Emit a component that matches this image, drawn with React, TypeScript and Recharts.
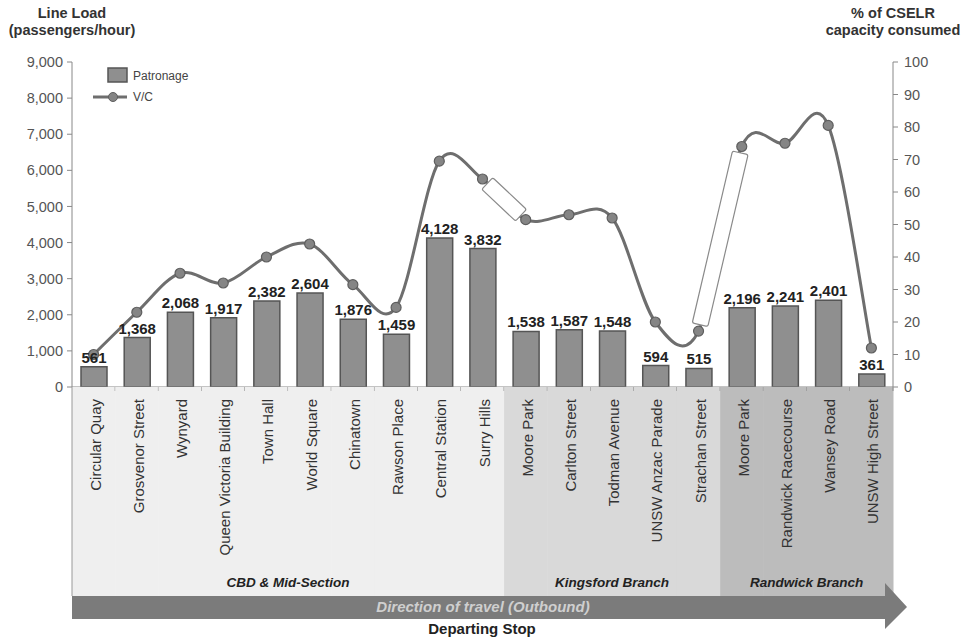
import React from 'react';
import { ComposedChart, Bar, Line, XAxis, YAxis, LabelList, Legend } from 'recharts';

const stops = [
  'Circular Quay', 'Grosvenor Street', 'Wynyard', 'Queen Victoria Building', 'Town Hall',
  'World Square', 'Chinatown', 'Rawson Place', 'Central Station', 'Surry Hills',
  'Moore Park', 'Carlton Street', 'Todman Avenue', 'UNSW Anzac Parade', 'Strachan Street',
  'Moore Park', 'Randwick Racecourse', 'Wansey Road', 'UNSW High Street',
];
const patronage = [561, 1368, 2068, 1917, 2382, 2604, 1876, 1459, 4128, 3832, 1538, 1587, 1548, 594, 515, 2196, 2241, 2401, 361];
const vc = [10, 23, 35, 32, 40, 44, 31.5, 24.5, 69.5, 64, 51.5, 53, 52, 20, 17.2, 74, 75, 80.5, 12];
// which branch each stop belongs to
const sectionOf = [0, 0, 0, 0, 0, 0, 0, 0, 0, 0, 1, 1, 1, 1, 1, 2, 2, 2, 2];
const sectionNames = ['CBD & Mid-Section', 'Kingsford Branch', 'Randwick Branch'];
// line segments drawn with a break marker (segment from stop i to i+1)
const breakAfter = [9, 14];
const loadTicks = [0, 1000, 2000, 3000, 4000, 5000, 6000, 7000, 8000, 9000];
const pctTicks = [0, 10, 20, 30, 40, 50, 60, 70, 80, 90, 100];

const data = stops.map((stop, i) => ({ stop, patronage: patronage[i], vc: vc[i], section: sectionOf[i] }));

const W = 966;
const H = 638;
const TOP = 62;
const AXIS_Y = 387;
const LEFT = 72;
const RIGHT = 893;
const BAND_W = (RIGHT - LEFT) / stops.length;
const BAND_BOTTOM = 596;
const sectionFill = ['#efefef', '#d9d9d9', '#bcbcbc'];
const FONT = '"Liberation Sans", Arial, sans-serif';

const fmt = (v: number) => v.toLocaleString('en-US');

// Excel-style smoothed line (Catmull-Rom through each point)
function smoothCurve(context: any) {
  let pts: number[][] = [];
  return {
    areaStart() {},
    areaEnd() {},
    lineStart() {
      pts = [];
    },
    point(x: number, y: number) {
      pts.push([+x, +y]);
    },
    lineEnd() {
      if (!pts.length) return;
      context.moveTo(pts[0][0], pts[0][1]);
      for (let i = 0; i < pts.length - 1; i++) {
        const p0 = pts[i - 1] || pts[i];
        const p1 = pts[i];
        const p2 = pts[i + 1];
        const p3 = pts[i + 2] || p2;
        context.bezierCurveTo(
          p1[0] + (p2[0] - p0[0]) / 6,
          p1[1] + (p2[1] - p0[1]) / 6,
          p2[0] - (p3[0] - p1[0]) / 6,
          p2[1] - (p3[1] - p1[1]) / 6,
          p2[0],
          p2[1],
        );
      }
    },
  };
}

function StopTick(props: any) {
  const { x, payload, index } = props;
  const sec = sectionOf[index];
  const last = index === stops.length - 1;
  const sectionCenters = sectionNames.map((_, s) => {
    const idx = sectionOf.map((v, i) => (v === s ? i : -1)).filter((i) => i >= 0);
    return LEFT + ((idx[0] + idx[idx.length - 1] + 1) / 2) * BAND_W;
  });
  const tx = x + 7;
  const ty = AXIS_Y + 12;
  return (
    <g>
      <rect x={x - BAND_W / 2} y={AXIS_Y} width={BAND_W + 0.5} height={BAND_BOTTOM - AXIS_Y} fill={sectionFill[sec]} />
      <line x1={x + BAND_W / 2} x2={x + BAND_W / 2} y1={AXIS_Y} y2={AXIS_Y + 4} stroke="#888" />
      {index === 0 && <line x1={x - BAND_W / 2} x2={x - BAND_W / 2} y1={AXIS_Y} y2={BAND_BOTTOM} stroke="#999" />}
      <text
        x={tx}
        y={ty}
        transform={`rotate(-90, ${tx}, ${ty})`}
        textAnchor="end"
        fontSize={15}
        fill="#333"
        fontFamily={FONT}
      >
        {payload.value}
      </text>
      {last && (
        <g fontFamily={FONT}>
          {sectionNames.map((name, s) => (
            <text key={name} x={sectionCenters[s]} y={587} textAnchor="middle" fontSize={13.5} fontWeight="bold" fontStyle="italic" fill="#222">
              {name}
            </text>
          ))}
          <path
            d={`M${LEFT},${BAND_BOTTOM} L${RIGHT - 8},${BAND_BOTTOM} L${RIGHT - 8},583 L${RIGHT + 14},607 L${RIGHT - 8},629 L${RIGHT - 8},619 L${LEFT},619 Z`}
            fill="#7b7b7b"
          />
          <text x={483} y={612} textAnchor="middle" fontSize={15} fontWeight="bold" fontStyle="italic" fill="#cfcfcf">
            Direction of travel (Outbound)
          </text>
          <text x={482} y={634} textAnchor="middle" fontSize={15} fontWeight="bold" fill="#222">
            Departing Stop
          </text>
        </g>
      )}
    </g>
  );
}

function VcDot(props: any) {
  const { cx, cy, index, points } = props;
  if (cx == null || cy == null) return <g />;
  let mark = null;
  if (index > 0 && breakAfter.includes(index - 1) && points && points[index - 1]) {
    const p = points[index - 1];
    const dx = cx - p.x;
    const dy = cy - p.y;
    const len = Math.sqrt(dx * dx + dy * dy) - 13;
    const ang = (Math.atan2(dy, dx) * 180) / Math.PI;
    const mx = (cx + p.x) / 2;
    const my = (cy + p.y) / 2;
    mark = (
      <rect
        x={mx - len / 2}
        y={my - 8}
        width={len}
        height={16}
        rx={2}
        fill="#ffffff"
        stroke="#8a8a8a"
        strokeWidth={1.2}
        transform={`rotate(${ang}, ${mx}, ${my})`}
      />
    );
  }
  return (
    <g>
      {mark}
      <circle cx={cx} cy={cy} r={5} fill="#858585" stroke="#5e5e5e" strokeWidth={1.2} />
    </g>
  );
}

function LegendBox() {
  return (
    <svg width={130} height={44} style={{ fontFamily: FONT }}>
      <rect x={16} y={2} width={19} height={14} fill="#8f8f8f" stroke="#555" strokeWidth={1.5} />
      <text x={41} y={14} fontSize={12} fill="#444">Patronage</text>
      <line x1={1} x2={35} y1={31} y2={31} stroke="#6e6e6e" strokeWidth={3} />
      <circle cx={21} cy={31} r={4.5} fill="#858585" stroke="#5e5e5e" />
      <text x={41} y={35} fontSize={12} fill="#444">V/C</text>
    </svg>
  );
}

function AxisTitle(props: any) {
  const { viewBox, lines, side } = props;
  const cx = side === 'left' ? viewBox.x + viewBox.width : viewBox.x;
  return (
    <g fontFamily={FONT} fontWeight="bold" fontSize={14.5}>
      <text x={cx} y={viewBox.y - 44} textAnchor="middle" fill="#333">{lines[0]}</text>
      <text x={cx} y={viewBox.y - 27} textAnchor="middle" fill="#333">{lines[1]}</text>
    </g>
  );
}

export default function App() {
  return (
    <div style={{ position: 'fixed', left: 0, top: 0, width: W, height: H, background: '#fff', fontFamily: FONT }}>
      <ComposedChart width={W} height={H} data={data} margin={{ top: TOP, right: 0, bottom: 0, left: 0 }}>
        <XAxis
          dataKey="stop"
          interval={0}
          height={H - AXIS_Y}
          tick={<StopTick />}
          tickLine={false}
          axisLine={{ stroke: '#888' }}
        />
        <YAxis
          yAxisId="left"
          domain={[0, 9000]}
          ticks={loadTicks}
          width={LEFT}
          tickFormatter={fmt}
          tick={{ fontSize: 14.5, fill: '#555', fontFamily: FONT }}
          tickSize={5}
          tickMargin={4}
          axisLine={{ stroke: '#888' }}
          tickLine={{ stroke: '#888' }}
          label={<AxisTitle side="left" lines={['Line Load', '(passengers/hour)']} />}
        />
        <YAxis
          yAxisId="right"
          orientation="right"
          domain={[0, 100]}
          ticks={pctTicks}
          width={W - RIGHT}
          tick={{ fontSize: 14.5, fill: '#555', fontFamily: FONT }}
          tickSize={5}
          tickMargin={6}
          axisLine={{ stroke: '#888' }}
          tickLine={{ stroke: '#888' }}
          label={<AxisTitle side="right" lines={['% of CSELR', 'capacity consumed']} />}
        />
        <Legend
          layout="vertical"
          align="center"
          verticalAlign="middle"
          content={<LegendBox />}
          wrapperStyle={{ left: 92, top: 66, width: 130, height: 44 }}
        />
        <Bar
          yAxisId="left"
          dataKey="patronage"
          name="Patronage"
          barSize={26}
          fill="#8f8f8f"
          stroke="#555"
          strokeWidth={1.5}
          isAnimationActive={false}
        >
          <LabelList
            dataKey="patronage"
            position="top"
            offset={4}
            formatter={(v: any) => fmt(Number(v))}
            style={{ fontSize: 15, fontWeight: 'bold', fill: '#222', fontFamily: FONT }}
          />
        </Bar>
        <Line
          yAxisId="right"
          type={smoothCurve as any}
          dataKey="vc"
          name="V/C"
          stroke="#6e6e6e"
          strokeWidth={3}
          dot={<VcDot />}
          activeDot={false}
          isAnimationActive={false}
        />
      </ComposedChart>
    </div>
  );
}
